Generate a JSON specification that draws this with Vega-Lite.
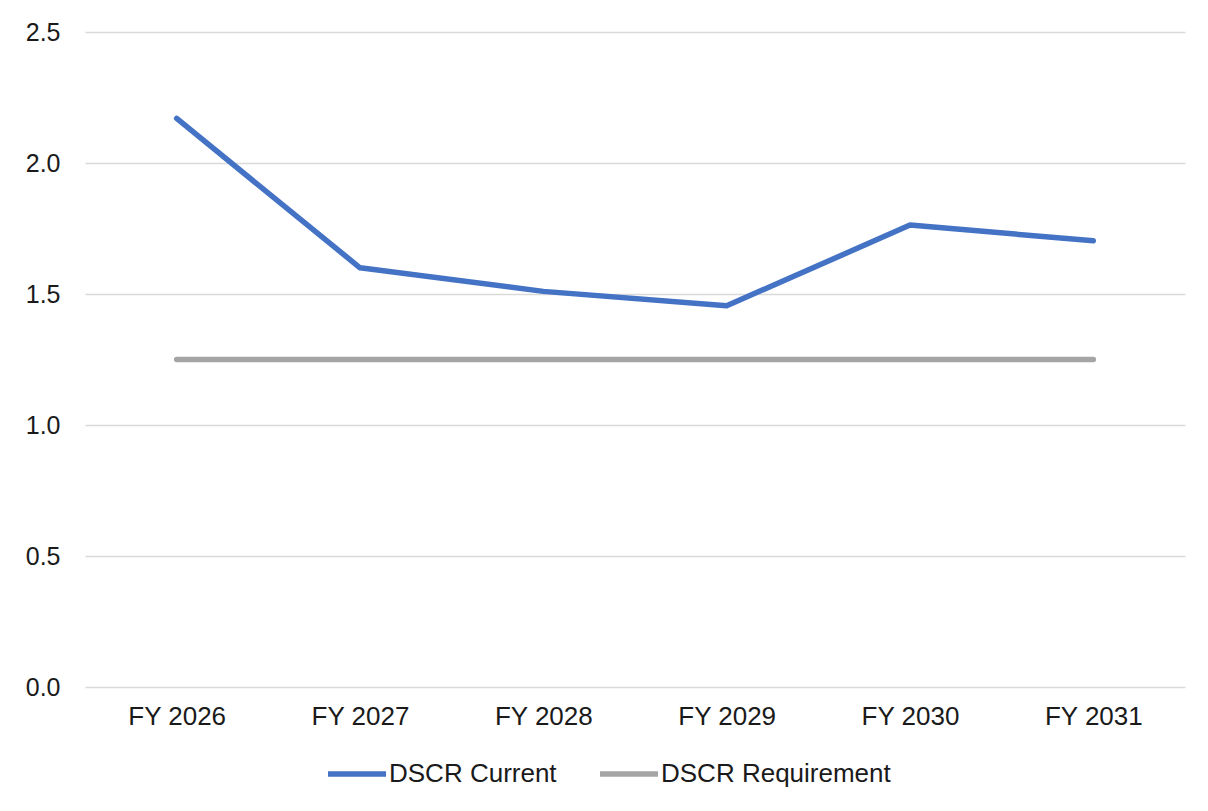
{
  "$schema": "https://vega.github.io/schema/vega-lite/v6.json",
  "autosize": "none",
  "width": 1100,
  "height": 655,
  "padding": {"left": 85, "top": 32, "right": 23, "bottom": 124},
  "background": "white",
  "data": {
    "values": [
      {"year": "FY 2026", "series": "DSCR Current", "value": 2.17},
      {"year": "FY 2027", "series": "DSCR Current", "value": 1.60},
      {"year": "FY 2028", "series": "DSCR Current", "value": 1.51},
      {"year": "FY 2029", "series": "DSCR Current", "value": 1.455},
      {"year": "FY 2030", "series": "DSCR Current", "value": 1.763},
      {"year": "FY 2031", "series": "DSCR Current", "value": 1.703},
      {"year": "FY 2026", "series": "DSCR Requirement", "value": 1.25},
      {"year": "FY 2027", "series": "DSCR Requirement", "value": 1.25},
      {"year": "FY 2028", "series": "DSCR Requirement", "value": 1.25},
      {"year": "FY 2029", "series": "DSCR Requirement", "value": 1.25},
      {"year": "FY 2030", "series": "DSCR Requirement", "value": 1.25},
      {"year": "FY 2031", "series": "DSCR Requirement", "value": 1.25}
    ]
  },
  "mark": {"type": "line", "strokeWidth": 5.5, "strokeCap": "round", "strokeJoin": "round"},
  "encoding": {
    "x": {
      "field": "year", "type": "ordinal", "title": null,
      "scale": {"type": "point", "padding": 0.5},
      "axis": {"domain": false, "ticks": false, "grid": false, "labelAngle": 0, "labelFontSize": 26, "labelFont": "Liberation Sans", "labelColor": "#1a1a1a", "labelPadding": 16}
    },
    "y": {
      "field": "value", "type": "quantitative", "title": null,
      "scale": {"domain": [0, 2.5], "nice": false, "zero": true},
      "axis": {"values": [0, 0.5, 1, 1.5, 2, 2.5], "format": ".1f", "domain": false, "ticks": false, "grid": true, "gridColor": "#d9d9d9", "gridWidth": 1.5, "labelFontSize": 25, "labelFont": "Liberation Sans", "labelColor": "#1a1a1a", "labelPadding": 25}
    },
    "color": {
      "field": "series", "type": "nominal", "title": null,
      "scale": {"domain": ["DSCR Current", "DSCR Requirement"], "range": ["#4472C4", "#A5A5A5"]},
      "legend": {
        "orient": "none", "legendX": 240, "legendY": 710, "direction": "horizontal",
        "symbolType": "stroke", "symbolSize": 3364, "symbolStrokeWidth": 5.5,
        "labelFontSize": 26, "labelFont": "Liberation Sans", "labelColor": "#1a1a1a", "labelLimit": 0,
        "labelOffset": 0, "columnPadding": 32, "symbolOffset": 0
      }
    }
  },
  "config": {"view": {"stroke": null}}
}
